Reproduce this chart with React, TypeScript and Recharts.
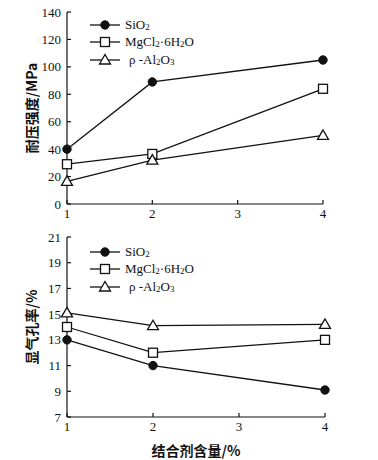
import React from 'react';
import { LineChart, Line, XAxis, YAxis, Legend } from 'recharts';

const contents = [1, 2, 4];
const strengthSiO2 = [40, 89, 105];
const strengthMgCl2 = [29, 36.5, 84];
const strengthAl2O3 = [16.5, 32, 50];
const porositySiO2 = [13, 11, 9.1];
const porosityMgCl2 = [14, 12, 13];
const porosityAl2O3 = [15.1, 14.1, 14.2];
const xTicks = [1, 2, 3, 4];
const strengthTicks = [0, 20, 40, 60, 80, 100, 120, 140];
const porosityTicks = [7, 9, 11, 13, 15, 17, 19, 21];

const seriesNames = ['SiO2', 'MgCl2·6H2O', 'ρ -Al2O3'];

const strengthData = contents.map((c, i) => ({
  x: c,
  s: strengthSiO2[i],
  m: strengthMgCl2[i],
  a: strengthAl2O3[i],
}));
const porosityData = contents.map((c, i) => ({
  x: c,
  s: porositySiO2[i],
  m: porosityMgCl2[i],
  a: porosityAl2O3[i],
}));

const serif = '"Liberation Serif", "DejaVu Serif", serif';
const cjk = '"Noto Sans CJK SC", sans-serif';
const INK = '#111';

const Circle = ({ cx, cy }: any) => <circle cx={cx} cy={cy} r={4.2} fill={INK} stroke={INK} />;
const Square = ({ cx, cy }: any) => (
  <rect x={cx - 4.5} y={cy - 4.5} width={9} height={9} fill="#fff" stroke={INK} strokeWidth={1.3} />
);
const Tri = ({ cx, cy }: any) => (
  <polygon
    points={`${cx},${cy - 5.5} ${cx - 5.5},${cy + 4} ${cx + 5.5},${cy + 4}`}
    fill="#fff"
    stroke={INK}
    strokeWidth={1.3}
  />
);
const markers = [Circle, Square, Tri];

const Sub = ({ children }: any) => (
  <span style={{ fontSize: 9, verticalAlign: '-1px' }}>{children}</span>
);

const renderName = (name: string) => {
  const parts: React.ReactNode[] = [];
  let buf = '';
  let k = 0;
  for (let i = 0; i < name.length; i++) {
    const ch = name[i];
    const prev = name[i - 1];
    if (ch === '2' || ch === '3') {
      if (prev && /[a-zA-Z]/.test(prev)) {
        if (buf) parts.push(<span key={k++}>{buf}</span>);
        buf = '';
        parts.push(<Sub key={k++}>{ch}</Sub>);
        continue;
      }
    }
    buf += ch;
  }
  if (buf) parts.push(<span key={k++}>{buf}</span>);
  return parts;
};

const LegendContent = () => (
  <div style={{ fontFamily: serif, fontSize: 13, color: INK }}>
    {seriesNames.map((n, i) => {
      const M = markers[i];
      return (
        <div key={n} style={{ display: 'flex', alignItems: 'center', height: 17.5 }}>
          <svg width={34} height={14} style={{ display: 'block' }}>
            <line x1={2} y1={7} x2={32} y2={7} stroke={INK} strokeWidth={1.3} />
            <M cx={17} cy={7} />
          </svg>
          <span style={{ marginLeft: i === 2 ? 7 : 3, whiteSpace: 'nowrap' }}>{renderName(n)}</span>
        </div>
      );
    })}
  </div>
);

const tickStyle = { fontFamily: serif, fontSize: 13, fill: INK };
const axisLine = { stroke: INK, strokeWidth: 1.2 };

const lines = () =>
  ['s', 'm', 'a'].map((key, i) => {
    const M = markers[i];
    return (
      <Line
        key={key}
        dataKey={key}
        name={seriesNames[i]}
        stroke={INK}
        strokeWidth={1.3}
        isAnimationActive={false}
        dot={(p: any) => <M key={`${key}-${p.index}`} cx={p.cx} cy={p.cy} />}
        activeDot={false}
      />
    );
  });

const labelStyle = { fontFamily: cjk, fontSize: 14, fontWeight: 700, fill: INK };

export default function App() {
  return (
    <div style={{ position: 'absolute', left: 0, top: 0, width: 378, height: 460, background: '#fff' }}>
      <LineChart width={378} height={225} data={strengthData} margin={{ top: 12, right: 55, bottom: 0, left: 0 }}>
        <XAxis
          dataKey="x"
          type="number"
          domain={[1, 4]}
          ticks={xTicks}
          height={21}
          axisLine={axisLine}
          tickLine={axisLine}
          tickSize={-4}
          tickMargin={9}
          tick={tickStyle}
          interval={0}
        />
        <YAxis
          type="number"
          domain={[0, 140]}
          ticks={strengthTicks}
          width={67}
          axisLine={axisLine}
          tickLine={axisLine}
          tickSize={-4}
          tickMargin={10}
          tick={tickStyle}
          interval={0}
          label={{ value: '耐压强度/MPa', angle: -90, position: 'center', dx: -1, style: labelStyle }}
        />
        <Legend
          content={<LegendContent />}
          layout="vertical"
          verticalAlign="middle"
          align="center"
          wrapperStyle={{ top: 16, left: 88, width: 'auto', bottom: 'auto', right: 'auto' }}
        />
        {lines()}
      </LineChart>
      <LineChart width={378} height={235} data={porosityData} margin={{ top: 12, right: 53, bottom: 0, left: 0 }}>
        <XAxis
          dataKey="x"
          type="number"
          domain={[1, 4]}
          ticks={xTicks}
          height={43}
          axisLine={axisLine}
          tickLine={axisLine}
          tickSize={-4}
          tickMargin={9}
          tick={tickStyle}
          interval={0}
          label={{ value: '结合剂含量/%', position: 'insideBottom', offset: 4, style: labelStyle }}
        />
        <YAxis
          type="number"
          domain={[7, 21]}
          ticks={porosityTicks}
          width={67}
          axisLine={axisLine}
          tickLine={axisLine}
          tickSize={-4}
          tickMargin={10}
          tick={tickStyle}
          interval={0}
          label={{ value: '显气孔率/%', angle: -90, position: 'center', dx: -1, style: labelStyle }}
        />
        <Legend
          content={<LegendContent />}
          layout="vertical"
          verticalAlign="middle"
          align="center"
          wrapperStyle={{ top: 18, left: 88, width: 'auto', bottom: 'auto', right: 'auto' }}
        />
        {lines()}
      </LineChart>
    </div>
  );
}
